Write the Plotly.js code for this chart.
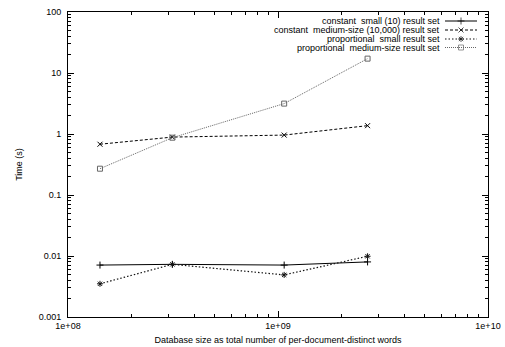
<!DOCTYPE html>
<html>
<head>
<meta charset="utf-8">
<script src="https://cdn.plot.ly/plotly-3.0.1.min.js"></script>
<style>html,body{margin:0;padding:0;background:#fff;}#chart{width:505px;height:347px;}</style>
</head>
<body>
<div id="chart"></div>
<script>
// ---- data ----
const dbSize = [1.42e8, 3.14e8, 1.07e9, 2.67e9];
const constSmall = [0.0071, 0.0073, 0.0071, 0.0080];
const constMedium = [0.68, 0.89, 0.96, 1.37];
const propSmall = [0.0035, 0.0073, 0.0049, 0.0099];
const propMedium = [0.27, 0.87, 3.15, 17.2];
const seriesNames = [
  'constant  small (10) result set',
  'constant  medium-size (10,000) result set',
  'proportional  small result set',
  'proportional  medium-size result set'
];
const xTickVals = [1e8, 1e9, 1e10];
const xTickText = ['1e+08', '1e+09', '1e+10'];
const yTickVals = [0.001, 0.01, 0.1, 1, 10, 100];
const yTickText = ['0.001', '0.01', '0.1', '1', '10', '100'];
const xTitle = 'Database size as total number of per-document-distinct words';
const yTitle = 'Time (s)';

// ---- styles ----
const FONT = 'Liberation Sans, Arial, Helvetica, sans-serif';
const styles = [
  {color: '#000', dash: 'solid', width: 1, symbol: 'cross-thin-open', size: 5},
  {color: '#000', dash: '3px,2px', width: 1, symbol: 'x-thin-open', size: 5},
  {color: '#111', dash: '1.5px,2px', width: 1.2, symbol: 'asterisk-open', size: 5},
  {color: '#666', dash: '1px,1px', width: 1, symbol: 'square-open', size: 5}
];
const allY = [constSmall, constMedium, propSmall, propMedium];

function minorVals(lo, hi) {
  const out = [];
  for (let e = lo; e < hi; e++) for (let d = 2; d <= 9; d++) out.push(d * Math.pow(10, e));
  return out;
}

const traces = allY.map((ys, i) => ({
  x: dbSize, y: ys, type: 'scatter', mode: 'lines+markers', name: seriesNames[i],
  showlegend: false, cliponaxis: false,
  line: {color: styles[i].color, dash: styles[i].dash, width: styles[i].width},
  marker: {symbol: styles[i].symbol, size: styles[i].size, color: styles[i].color,
           line: {color: styles[i].color, width: 1}}
}));

// legend key samples, drawn on a pixel-scaled overlay axis
const legRowY = [21, 30, 39, 47.5];
const legX = [445, 461, 477];
const legTextX = 442;
allY.forEach((ys, i) => {
  traces.push({
    x: legX, y: [legRowY[i], legRowY[i], legRowY[i]], xaxis: 'x2', yaxis: 'y2',
    type: 'scatter', mode: 'lines+markers', showlegend: false, hoverinfo: 'skip', cliponaxis: false,
    line: {color: styles[i].color, dash: styles[i].dash, width: styles[i].width},
    marker: {symbol: styles[i].symbol, size: [0, styles[i].size, 0], color: styles[i].color,
             line: {color: styles[i].color, width: 1}}
  });
});

const annotations = seriesNames.map((n, i) => ({
  x: legTextX, y: legRowY[i], xref: 'x2', yref: 'y2', text: n, showarrow: false,
  xanchor: 'right', yanchor: 'middle', font: {family: FONT, size: 9, color: '#000'}
}));

const axisCommon = {
  type: 'log', showgrid: false, zeroline: false, showline: true, linecolor: '#000', linewidth: 1,
  mirror: 'allticks', ticks: 'inside', ticklen: 6, tickcolor: '#000', tickwidth: 1,
  tickmode: 'array', tickfont: {family: FONT, size: 9, color: '#000'}
};

const layout = {
  width: 505, height: 347,
  margin: {l: 68, r: 17, t: 12, b: 30},
  paper_bgcolor: '#fff', plot_bgcolor: '#fff',
  showlegend: false,
  xaxis: Object.assign({}, axisCommon, {
    range: [8, 10], tickvals: xTickVals, ticktext: xTickText,
    minor: {tickmode: 'array', tickvals: minorVals(8, 10), ticks: 'inside', ticklen: 3, tickcolor: '#000', showgrid: false},
    title: {text: xTitle, font: {family: FONT, size: 9, color: '#000'}, standoff: 6}
  }),
  yaxis: Object.assign({}, axisCommon, {
    range: [-3, 2], tickvals: yTickVals, ticktext: yTickText, ticklabelstandoff: 4,
    minor: {tickmode: 'array', tickvals: minorVals(-3, 2), ticks: 'inside', ticklen: 3, tickcolor: '#000', showgrid: false},
    title: {text: yTitle, font: {family: FONT, size: 9, color: '#000'}, standoff: 14}
  }),
  xaxis2: {overlaying: 'x', range: [68, 488], visible: false, fixedrange: true},
  yaxis2: {overlaying: 'y', range: [317, 12], visible: false, fixedrange: true},
  annotations: annotations
};

Plotly.newPlot('chart', traces, layout, {staticPlot: true, displayModeBar: false});
</script>
</body>
</html>
